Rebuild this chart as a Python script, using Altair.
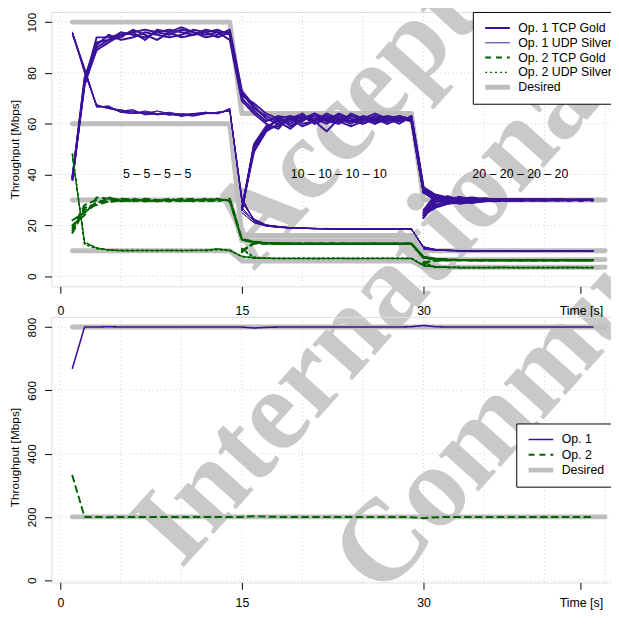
import altair as alt
import pandas as pd

FONT = "Liberation Sans"
SERIF = "Liberation Serif"
PURPLE = "#3A119A"
GREEN = "#006400"
GRAY = "#BEBEBE"
GRIDC = "#CFCFCF"
WMC = "#C9C9C9"

# ---------------- top panel: per-flow throughput ----------------
SERIES_TOP = ["Op. 1 TCP Gold", "Op. 1 UDP Silver", "Op. 2 TCP Gold", "Op. 2 UDP Silver", "Desired"]

# Op. 1 TCP Gold, flows started at t=1 (values for t=1..44)
OP1_GOLD_A = [
    [38, 76, 94, 94, 95, 96, 97, 96, 95, 97, 96, 95, 96, 96,
     72, 66, 63, 61, 62, 64, 60, 62, 63, 61, 62, 60, 63, 62, 62,
     34, 31, 30.5, 30, 30.2, 29.8, 30, 30.1, 29.9, 30, 30.2, 29.8, 30, 30, 29.9],
    [38, 78, 92, 93, 96, 95, 94, 96, 97, 96, 95, 96, 97, 95,
     70, 65, 61, 63, 59, 62, 63, 61, 64, 62, 60, 62, 61, 63, 61,
     33, 30, 29.6, 30.3, 29.8, 30.2, 29.9, 30, 30.1, 29.8, 30, 30.1, 29.9, 30, 30.1],
    [39, 75, 90, 93, 94, 97, 95, 93, 96, 98, 96, 94, 95, 97,
     73, 67, 62, 60, 62, 61, 64, 62, 60, 63, 62, 64, 62, 60, 63,
     35, 32, 30.8, 29.7, 30.4, 29.9, 30.2, 29.8, 30, 30.2, 29.9, 30, 30.1, 29.9, 30],
    [38, 77, 91, 95, 93, 94, 96, 95, 94, 95, 97, 96, 94, 96,
     71, 68, 64, 62, 60, 63, 61, 57, 62, 61, 63, 62, 60, 62, 62,
     34, 31, 29.4, 30.1, 29.7, 30.3, 29.8, 30.1, 29.9, 30, 29.8, 30.2, 30, 29.9, 30],
    [39, 76, 89, 92, 95, 96, 93, 97, 96, 94, 95, 97, 96, 93,
     69, 64, 60, 58, 63, 62, 62, 63, 61, 59, 61, 63, 62, 61, 62,
     33, 31, 30.2, 29.9, 30.1, 29.7, 30, 30.2, 29.9, 30.1, 30, 29.8, 30, 30.1, 29.9],
]
# flows started at t=15 (values for t=15..44)
OP1_GOLD_B = [
    [26, 51, 58, 62, 63, 60, 61, 64, 62, 60, 63, 61, 62, 63, 61,
     33, 30, 29.8, 30.2, 30, 29.9, 30.1, 30, 29.8, 30.2, 30, 29.9, 30, 30.1, 30],
    [27, 50, 57, 60, 61, 63, 62, 60, 63, 62, 61, 63, 60, 62, 62,
     34, 32, 30.5, 29.6, 30.2, 30, 29.8, 30.1, 30, 29.9, 30.1, 30, 29.9, 30, 30],
    [26, 52, 59, 61, 58, 62, 64, 61, 60, 64, 62, 60, 62, 61, 63,
     35, 31, 29.9, 30.3, 29.8, 30.1, 30, 29.9, 30.2, 30, 29.8, 30.1, 30, 29.9, 30.1],
    [27, 49, 57, 63, 62, 59, 61, 63, 62, 61, 60, 62, 63, 62, 61,
     33, 30, 30.4, 29.8, 30.1, 29.9, 30.2, 30, 29.9, 30.1, 30, 30, 29.8, 30.1, 30],
    [26, 51, 58, 59, 62, 63, 60, 62, 61, 63, 62, 61, 61, 63, 62,
     34, 31, 29.7, 30.2, 30, 30.1, 29.8, 30, 30.1, 29.9, 30, 30.2, 29.9, 30, 29.9],
]
# flows started at t=30 (values for t=30..44)
OP1_GOLD_C = [
    [23, 32, 31, 30.5, 30.8, 30.2, 30.4, 30, 30.3, 30.1, 30, 30.2, 29.9, 30.1, 30],
    [24, 27, 28.5, 29, 29.3, 29.6, 29.5, 29.8, 29.7, 29.9, 29.8, 30, 29.9, 29.8, 30],
    [23, 30, 31.5, 30, 29.5, 30.2, 29.8, 30.1, 30, 29.9, 30.2, 30, 30.1, 29.9, 30],
    [25, 31, 29.5, 28.5, 29.2, 29.9, 30.3, 29.7, 30, 30.2, 29.9, 30, 30.1, 30, 29.9],
    [24, 28, 30, 31, 30.5, 29.6, 30, 30.4, 29.8, 30, 30.1, 29.9, 30, 30.2, 30],
    [23, 29, 31, 29.8, 30.6, 30.1, 29.6, 30.2, 30.1, 29.8, 30, 30.1, 29.9, 30, 30.1],
    [26, 32, 30.5, 29.2, 28.8, 29.5, 30.1, 29.9, 30.3, 30, 29.9, 30.1, 30, 29.9, 30],
    [24, 27.5, 29, 30.4, 31, 30.3, 29.9, 30.1, 29.8, 30.1, 30.2, 29.9, 30, 30, 29.9],
    [25, 30.5, 28.5, 29.6, 30, 30.7, 30.2, 29.7, 30, 30.1, 29.8, 30, 30.1, 29.9, 30.1],
    [23, 29.5, 30.2, 31.2, 29.7, 29.4, 30, 30.3, 30.1, 29.9, 30, 30.1, 29.9, 30, 30],
]

# Op. 1 UDP Silver
OP1_SILVER_A = [
    [96, 81, 67, 66.5, 65, 64, 64.5, 63.5, 64, 63, 64, 64.5, 64, 65.5,
     30, 22, 20, 19.4, 19, 18.9, 18.8, 18.7, 18.6, 18.6, 18.5, 18.6, 18.5, 18.6, 18.5,
     11.5, 10.4, 10.2, 10.1, 10, 10, 10.1, 10, 10, 10.1, 10, 10, 10, 10.1, 10],
    [96, 80, 67.5, 66, 65.5, 64.5, 64, 64, 63.5, 63.5, 64, 64, 64.5, 65,
     29, 22.5, 20.2, 19.5, 19.1, 18.8, 18.7, 18.8, 18.6, 18.5, 18.6, 18.5, 18.6, 18.5, 18.6,
     11.3, 10.5, 10.1, 10.1, 10, 10.1, 10, 10, 10.1, 10, 10, 10.1, 10, 10, 10.1],
    [96, 81, 66.5, 67, 64.5, 65, 64, 65, 64, 63, 63.5, 64.5, 64, 65.5,
     31, 21.5, 19.8, 19.3, 19, 18.9, 18.8, 18.6, 18.7, 18.6, 18.5, 18.5, 18.6, 18.5, 18.5,
     11.6, 10.3, 10.2, 10, 10.1, 10, 10, 10.1, 10, 10, 10.1, 10, 10, 10, 10],
    [95, 81, 67, 66, 65, 65.5, 63.5, 64, 64.5, 63.5, 63, 64, 64.5, 65,
     30, 22, 20.1, 19.6, 19.1, 18.9, 18.8, 18.7, 18.6, 18.5, 18.6, 18.6, 18.5, 18.5, 18.6,
     11.4, 10.4, 10.1, 10.1, 10, 10, 10.1, 10, 10, 10, 10.1, 10, 10, 10.1, 10],
    [96, 82, 67, 66.5, 64.5, 64, 65, 64, 63.5, 64, 63.5, 64, 64, 66,
     29.5, 22, 19.9, 19.4, 19, 18.9, 18.7, 18.7, 18.6, 18.6, 18.5, 18.5, 18.5, 18.6, 18.5,
     11.5, 10.4, 10.2, 10, 10, 10.1, 10, 10, 10, 10.1, 10, 10, 10, 10, 10],
]
OP1_SILVER_B = [
    [27, 21.5, 19.9, 19.3, 19, 18.8, 18.7, 18.7, 18.6, 18.5, 18.5, 18.6, 18.5, 18.5, 18.5,
     11.2, 10.3, 10.1, 10, 10, 10.1, 10, 10, 10, 10, 10.1, 10, 10, 10, 10],
    [25, 21, 19.7, 19.2, 18.9, 18.8, 18.7, 18.6, 18.6, 18.6, 18.5, 18.5, 18.6, 18.5, 18.6,
     11.4, 10.4, 10.1, 10.1, 10, 10, 10, 10.1, 10, 10, 10, 10, 10.1, 10, 10],
    [26, 21.8, 20, 19.4, 19.1, 18.9, 18.7, 18.7, 18.5, 18.6, 18.6, 18.5, 18.5, 18.6, 18.5,
     11.3, 10.3, 10.2, 10, 10.1, 10, 10, 10, 10.1, 10, 10, 10, 10, 10.1, 10],
]
OP1_SILVER_C = [
    [11, 10.3, 10.1, 10, 10, 10, 10.1, 10, 10, 10, 10, 10.1, 10, 10, 10],
    [10.6, 10.2, 10.1, 10.1, 10, 10, 10, 10, 10.1, 10, 10, 10, 10, 10.1, 10],
    [11.3, 10.4, 10, 10, 10.1, 10, 10, 10, 10, 10.1, 10, 10, 10, 10, 10],
]

# Op. 2 TCP Gold
OP2_GOLD_A = [
    [17, 26, 29, 30, 30.5, 30, 29.5, 30, 30, 29.5, 30, 30, 29.5, 30.5,
     14.5, 13.5, 13, 12.9, 12.8, 12.8, 12.7, 12.8, 12.8, 12.7, 12.8, 12.8, 12.7, 12.8, 12.8,
     7.5, 6.8, 6.5, 6.4, 6.4, 6.3, 6.4, 6.3, 6.3, 6.4, 6.3, 6.3, 6.4, 6.3, 6.3],
    [20, 24, 31, 30.5, 30, 29.5, 30, 29.5, 30, 30, 29.5, 30.5, 30, 30,
     14.2, 13.4, 13.1, 12.8, 12.8, 12.7, 12.8, 12.8, 12.7, 12.8, 12.8, 12.7, 12.8, 12.8, 12.7,
     7.4, 6.7, 6.5, 6.4, 6.3, 6.4, 6.3, 6.3, 6.4, 6.3, 6.3, 6.4, 6.3, 6.3, 6.4],
    [18, 27, 28, 29.5, 30, 30.5, 29.5, 30, 29.5, 30.5, 30, 29.5, 30, 30,
     14.6, 13.6, 13, 12.9, 12.7, 12.8, 12.8, 12.7, 12.8, 12.8, 12.7, 12.8, 12.8, 12.7, 12.8,
     7.6, 6.8, 6.4, 6.4, 6.4, 6.3, 6.3, 6.4, 6.3, 6.3, 6.4, 6.3, 6.3, 6.4, 6.3],
    [22, 25, 28.5, 31, 29.5, 30, 30, 29.5, 30.5, 29.5, 30, 30, 30.5, 29.5,
     14.3, 13.5, 13.1, 12.8, 12.8, 12.8, 12.7, 12.8, 12.8, 12.8, 12.7, 12.8, 12.7, 12.8, 12.8,
     7.5, 6.7, 6.5, 6.3, 6.4, 6.4, 6.3, 6.3, 6.3, 6.4, 6.3, 6.4, 6.3, 6.3, 6.3],
    [19, 28, 30, 29, 30, 29.5, 30.5, 30, 29.5, 30, 30.5, 29.5, 30, 30,
     14.4, 13.4, 13, 12.8, 12.9, 12.7, 12.8, 12.8, 12.8, 12.7, 12.8, 12.8, 12.8, 12.7, 12.8,
     7.4, 6.8, 6.4, 6.4, 6.3, 6.3, 6.4, 6.3, 6.4, 6.3, 6.3, 6.3, 6.4, 6.3, 6.4],
]
OP2_GOLD_B = [
    [9.7, 13, 12.9, 12.8, 12.8, 12.7, 12.8, 12.8, 12.7, 12.8, 12.8, 12.8, 12.7, 12.8, 12.8,
     7.3, 6.6, 6.4, 6.4, 6.3, 6.3, 6.4, 6.3, 6.3, 6.3, 6.4, 6.3, 6.3, 6.3, 6.3],
    [10.2, 12.8, 12.9, 12.8, 12.7, 12.8, 12.8, 12.7, 12.8, 12.8, 12.7, 12.8, 12.8, 12.8, 12.7,
     7.2, 6.6, 6.5, 6.3, 6.4, 6.3, 6.3, 6.4, 6.3, 6.3, 6.3, 6.4, 6.3, 6.3, 6.4],
    [9.4, 13.2, 12.8, 12.9, 12.8, 12.8, 12.7, 12.8, 12.8, 12.7, 12.8, 12.8, 12.7, 12.8, 12.8,
     7.4, 6.7, 6.4, 6.4, 6.3, 6.4, 6.3, 6.3, 6.3, 6.4, 6.3, 6.3, 6.4, 6.3, 6.3],
]
OP2_GOLD_C = [
    [5.2, 6.2, 6.3, 6.3, 6.4, 6.3, 6.3, 6.3, 6.4, 6.3, 6.3, 6.3, 6.3, 6.4, 6.3],
    [4.8, 6.4, 6.4, 6.3, 6.3, 6.3, 6.4, 6.3, 6.3, 6.3, 6.4, 6.3, 6.3, 6.3, 6.3],
    [5.5, 6.1, 6.3, 6.4, 6.3, 6.3, 6.3, 6.4, 6.3, 6.3, 6.3, 6.3, 6.4, 6.3, 6.3],
]

# Op. 2 UDP Silver
OP2_SILVER_A = [
    [48, 13, 11, 10.3, 10, 10, 10.2, 10, 10.3, 10, 10.2, 10, 10.5, 10,
     7.8, 7.2, 7, 7, 6.9, 7, 7, 6.9, 7, 7, 7, 6.9, 7, 7, 7,
     4.2, 3.6, 3.5, 3.4, 3.4, 3.4, 3.5, 3.4, 3.4, 3.4, 3.5, 3.4, 3.4, 3.4, 3.4],
    [48, 12.5, 10.8, 10.4, 10.1, 10.2, 10, 10.1, 10.2, 10.1, 10, 10.3, 10.6, 10.2,
     7.6, 7.1, 7, 6.9, 7, 7, 6.9, 7, 7, 6.9, 7, 7, 7, 6.9, 7,
     4.1, 3.6, 3.4, 3.4, 3.5, 3.4, 3.4, 3.4, 3.5, 3.4, 3.4, 3.4, 3.4, 3.5, 3.4],
    [47, 13.5, 11.2, 10.2, 10.2, 10, 10.1, 10.2, 10, 10.2, 10.1, 10.2, 10.8, 10.1,
     7.9, 7.2, 7.1, 7, 7, 6.9, 7, 7, 7, 7, 6.9, 7, 7, 7, 6.9,
     4.3, 3.7, 3.5, 3.4, 3.4, 3.4, 3.4, 3.5, 3.4, 3.4, 3.4, 3.5, 3.4, 3.4, 3.4],
    [48, 12.8, 10.9, 10.3, 10.1, 10.1, 10.2, 10, 10.1, 10.1, 10.2, 10.1, 10.4, 10.3,
     7.7, 7.1, 7, 7, 7, 7, 6.9, 7, 6.9, 7, 7, 7, 6.9, 7, 7,
     4.2, 3.6, 3.4, 3.5, 3.4, 3.4, 3.4, 3.4, 3.4, 3.5, 3.4, 3.4, 3.4, 3.4, 3.5],
    [48, 13.2, 11.1, 10.4, 10, 10.1, 10.1, 10.1, 10.2, 10, 10.1, 10.2, 10.7, 10.2,
     7.8, 7.2, 7, 6.9, 7, 7, 7, 7, 7, 6.9, 7, 7, 7, 7, 7,
     4.2, 3.6, 3.5, 3.4, 3.4, 3.5, 3.4, 3.4, 3.4, 3.4, 3.4, 3.4, 3.5, 3.4, 3.4],
]
OP2_SILVER_B = [
    [10.8, 7.4, 7.1, 7, 7, 6.9, 7, 7, 7, 6.9, 7, 7, 7, 7, 6.9,
     4.3, 3.6, 3.5, 3.4, 3.4, 3.4, 3.4, 3.5, 3.4, 3.4, 3.4, 3.4, 3.5, 3.4, 3.4],
    [10.4, 7.3, 7, 7, 6.9, 7, 7, 6.9, 7, 7, 7, 6.9, 7, 7, 7,
     4.2, 3.6, 3.4, 3.4, 3.5, 3.4, 3.4, 3.4, 3.4, 3.5, 3.4, 3.4, 3.4, 3.4, 3.4],
    [11.0, 7.5, 7.1, 7, 7, 7, 6.9, 7, 7, 7, 6.9, 7, 7, 6.9, 7,
     4.4, 3.7, 3.5, 3.4, 3.4, 3.4, 3.5, 3.4, 3.4, 3.4, 3.4, 3.5, 3.4, 3.4, 3.4],
]
OP2_SILVER_C = [
    [5.2, 3.6, 3.5, 3.4, 3.4, 3.4, 3.4, 3.5, 3.4, 3.4, 3.4, 3.4, 3.4, 3.5, 3.4],
    [4.8, 3.7, 3.4, 3.4, 3.5, 3.4, 3.4, 3.4, 3.4, 3.4, 3.5, 3.4, 3.4, 3.4, 3.4],
    [5.5, 3.5, 3.5, 3.4, 3.4, 3.4, 3.5, 3.4, 3.4, 3.4, 3.4, 3.4, 3.5, 3.4, 3.4],
]

# Desired per-flow throughput (t = 1..45)
DES_OP1_GOLD = [100, 100, 100, 100, 100, 100, 100, 100, 100, 100, 100, 100, 100, 100,
                64, 64, 64, 64, 64, 64, 64, 64, 64, 64, 64, 64, 64, 64, 64,
                30, 30, 30, 30, 30, 30, 30, 30, 30, 30, 30, 30, 30, 30, 30, 30]
DES_OP1_SILVER = [60, 60, 60, 60, 60, 60, 60, 60, 60, 60, 60, 60, 60, 60,
                  16, 16, 16, 16, 16, 16, 16, 16, 16, 16, 16, 16, 16, 16, 16,
                  10, 10, 10, 10, 10, 10, 10, 10, 10, 10, 10, 10, 10, 10, 10, 10]
DES_OP2_GOLD = [30, 30, 30, 30, 30, 30, 30, 30, 30, 30, 30, 30, 30, 30,
                14, 14, 14, 14, 14, 14, 14, 14, 14, 14, 14, 14, 14, 14, 14,
                6.5, 6.5, 6.5, 6.5, 6.5, 6.5, 6.5, 6.5, 6.5, 6.5, 6.5, 6.5, 6.5, 6.5, 6.5, 6.5]
DES_OP2_SILVER = [10, 10, 10, 10, 10, 10, 10, 10, 10, 10, 10, 10, 10, 10,
                  6, 6, 6, 6, 6, 6, 6, 6, 6, 6, 6, 6, 6, 6, 6,
                  3.5, 3.5, 3.5, 3.5, 3.5, 3.5, 3.5, 3.5, 3.5, 3.5, 3.5, 3.5, 3.5, 3.5, 3.5, 3.5]

PHASE_LABELS = ["5 \u2013 5 \u2013 5 \u2013 5", "10 \u2013 10 \u2013 10 \u2013 10", "20 \u2013 20 \u2013 20 \u2013 20"]
PHASE_T = [8, 23, 38]
PHASE_V = [40, 40, 40]

# ---------------- bottom panel: aggregate throughput ----------------
SERIES_BOT = ["Op. 1", "Op. 2", "Desired"]
AGG_OP1 = [670, 800, 800, 801, 800, 800, 800, 800, 800, 800, 800, 800, 800, 800,
           800, 797, 799, 800, 800, 800, 800, 800, 800, 800, 800, 800, 800, 800, 801,
           805, 801, 800, 800, 800, 800, 800, 800, 800, 800, 800, 800, 800, 800, 800]
AGG_OP2 = [330, 200, 200, 199, 200, 200, 200, 200, 200, 200, 200, 200, 200, 200,
           200, 202, 201, 200, 200, 200, 200, 200, 200, 200, 200, 200, 200, 200, 199,
           196, 199, 200, 200, 200, 200, 200, 200, 200, 200, 200, 200, 200, 200, 200]
DES_AGG_OP1 = [800, 800, 800, 800, 800, 800, 800, 800, 800, 800, 800, 800, 800, 800, 800,
               800, 800, 800, 800, 800, 800, 800, 800, 800, 800, 800, 800, 800, 800, 800,
               800, 800, 800, 800, 800, 800, 800, 800, 800, 800, 800, 800, 800, 800, 800]
DES_AGG_OP2 = [200, 200, 200, 200, 200, 200, 200, 200, 200, 200, 200, 200, 200, 200, 200,
               200, 200, 200, 200, 200, 200, 200, 200, 200, 200, 200, 200, 200, 200, 200,
               200, 200, 200, 200, 200, 200, 200, 200, 200, 200, 200, 200, 200, 200, 200]

# axes / grid values
X_TICKS = [0, 15, 30, 43]
GRID_T = [0, 5, 10, 15, 20, 25, 30, 35, 40, 45]
Y_TICKS_TOP = [0, 20, 40, 60, 80, 100]
Y_TICKS_BOT = [0, 200, 400, 600, 800]

# watermark words (anchor in top-panel data units; text runs across both panels)
WM_WORDS = ["Accepted", "International", "Communication"]
WM_T = [15.99, 9.99, 26.50]
WM_V = [1.71, -115.65, -127.3]


def rows(series, start, tag, lists):
    out = []
    for k, vals in enumerate(lists):
        for i, v in enumerate(vals):
            out.append({"series": series, "flow": f"{series}|{tag}{k}", "t": start + i, "v": v})
    return out


top_rows = []
top_rows += rows("Op. 1 TCP Gold", 1, "A", OP1_GOLD_A)
top_rows += rows("Op. 1 TCP Gold", 15, "B", OP1_GOLD_B)
top_rows += rows("Op. 1 TCP Gold", 30, "C", OP1_GOLD_C)
top_rows += rows("Op. 1 UDP Silver", 1, "A", OP1_SILVER_A)
top_rows += rows("Op. 1 UDP Silver", 15, "B", OP1_SILVER_B)
top_rows += rows("Op. 1 UDP Silver", 30, "C", OP1_SILVER_C)
top_rows += rows("Op. 2 TCP Gold", 1, "A", OP2_GOLD_A)
top_rows += rows("Op. 2 TCP Gold", 15, "B", OP2_GOLD_B)
top_rows += rows("Op. 2 TCP Gold", 30, "C", OP2_GOLD_C)
top_rows += rows("Op. 2 UDP Silver", 1, "A", OP2_SILVER_A)
top_rows += rows("Op. 2 UDP Silver", 15, "B", OP2_SILVER_B)
top_rows += rows("Op. 2 UDP Silver", 30, "C", OP2_SILVER_C)
df_top = pd.DataFrame(top_rows)

des_rows = []
des_rows += rows("Desired", 1, "g1", [DES_OP1_GOLD])
des_rows += rows("Desired", 1, "s1", [DES_OP1_SILVER])
des_rows += rows("Desired", 1, "g2", [DES_OP2_GOLD])
des_rows += rows("Desired", 1, "s2", [DES_OP2_SILVER])
df_des_top = pd.DataFrame(des_rows)

df_bot = pd.DataFrame(rows("Op. 1", 1, "a", [AGG_OP1]) + rows("Op. 2", 1, "a", [AGG_OP2]))
df_des_bot = pd.DataFrame(rows("Desired", 1, "d1", [DES_AGG_OP1]) + rows("Desired", 1, "d2", [DES_AGG_OP2]))

df_phase = pd.DataFrame({"t": PHASE_T, "v": PHASE_V, "label": PHASE_LABELS})
df_wm = pd.DataFrame({"t": WM_T, "v": WM_V, "w": WM_WORDS})
df_gt = pd.DataFrame({"t": GRID_T})
df_gy_top = pd.DataFrame({"v": Y_TICKS_TOP})
df_gy_bot = pd.DataFrame({"v": Y_TICKS_BOT})

SX = alt.Scale(domain=[-0.734, 45.488], nice=False, zero=False)


def x_enc(lpad):
    return alt.X("t:Q", scale=SX, title=None, axis=alt.Axis(
        values=X_TICKS, labelExpr="datum.value == 43 ? 'Time [s]' : datum.label",
        grid=False, domain=False, ticks=True, tickSize=7, tickColor="black", tickWidth=1,
        labelPadding=lpad, labelFont=FONT, labelFontSize=12.5, labelColor="black",
        labelFlush=False, labelOverlap=False, zindex=1))


def y_enc(domain, ticks, ty):
    return alt.Y("v:Q", scale=alt.Scale(domain=domain, nice=False, zero=False), axis=alt.Axis(
        values=ticks, grid=False, domain=False, tickSize=7, tickColor="black", tickWidth=1,
        labelAngle=270, labelAlign="center", labelBaseline="middle", labelPadding=13,
        labelFont=FONT, labelFontSize=12, labelColor="black", labelOverlap=False, labelFlush=False,
        title="Throughput [Mbps]", titleFont=FONT, titleFontSize=12, titleFontWeight="normal",
        titleColor="black", titleAngle=270, titleX=-37.5, titleY=ty, titleAlign="center",
        titleBaseline="middle", zindex=1))


def legend(lx, ly, rpad):
    return alt.Legend(orient="none", legendX=lx, legendY=ly, direction="vertical", title=None,
                      fillColor="white", strokeColor="black", padding=10, cornerRadius=0,
                      symbolSize=625, symbolType="stroke", labelFont=FONT, labelFontSize=12.5,
                      labelColor="black", labelOffset=6, rowPadding=rpad, clipHeight=12.5,
                      labelLimit=300)


def panel(df_data, df_des, series, colors, dashes, widths, ydomain, yticks, ty, df_gy,
          lx, ly, rpad, lpad, with_wm):
    X = x_enc(lpad)
    Y = y_enc(ydomain, yticks, ty)
    C = alt.Color("series:N", scale=alt.Scale(domain=series, range=colors), legend=legend(lx, ly, rpad))
    D = alt.StrokeDash("series:N", scale=alt.Scale(type="ordinal", domain=series, range=dashes))
    W = alt.StrokeWidth("series:N", scale=alt.Scale(type="ordinal", domain=series, range=widths))
    grid_v = alt.Chart(df_gt).mark_rule(color=GRIDC, strokeDash=[1, 3], strokeWidth=1).encode(x=X)
    grid_h = alt.Chart(df_gy).mark_rule(color=GRIDC, strokeDash=[1, 3], strokeWidth=1).encode(y=Y)
    layers = [grid_v, grid_h]
    if with_wm:
        wm = alt.Chart(df_wm).mark_text(font=SERIF, fontSize=118, fontWeight="bold", color=WMC,
                                        angle=312, align="left", baseline="alphabetic").encode(
            x=X, y=Y, text="w:N")
        layers.append(wm)
    des = alt.Chart(df_des).mark_line(strokeCap="round", strokeJoin="round").encode(
        x=X, y=Y, color=C, strokeDash=D, strokeWidth=W, detail="flow:N")
    dat = alt.Chart(df_data).mark_line(strokeCap="round", strokeJoin="round").encode(
        x=X, y=Y, color=C, strokeDash=D, strokeWidth=W, detail="flow:N")
    return layers + [des, dat]


top_layers = panel(df_top, df_des_top, SERIES_TOP,
                   [PURPLE, PURPLE, GREEN, GREEN, GRAY],
                   [[1, 0], [1, 0], [6, 5], [2, 3], [1, 0]],
                   [2, 1, 2, 1.3, 5],
                   [-4, 104], Y_TICKS_TOP, 139, df_gy_top, 427, 0, 2, 11.5, True)
phase = alt.Chart(df_phase).mark_text(font=FONT, fontSize=12.5, color="black").encode(
    x=x_enc(11.5), y=y_enc([-4, 104], Y_TICKS_TOP, 139), text="label:N")
top = alt.layer(*top_layers, phase).properties(width=567, height=278)

bot_layers = panel(df_bot, df_des_bot, SERIES_BOT,
                   [PURPLE, GREEN, GRAY],
                   [[1, 0], [6, 5], [1, 0]],
                   [1.6, 2, 5],
                   [-7, 832], Y_TICKS_BOT, 142, df_gy_bot, 471, 108, 2.5, 7, False)
bottom = alt.layer(*bot_layers).properties(width=567, height=269)

chart = alt.vconcat(top, bottom, spacing=31, bounds="flush").resolve_scale(
    color="independent", strokeDash="independent", strokeWidth="independent",
    x="independent", y="independent"
).resolve_legend(
    color="independent", strokeDash="independent", strokeWidth="independent"
).properties(
    autosize=alt.AutoSizeParams(type="none"),
    padding={"left": 44, "top": 0, "right": 0, "bottom": 605}
).configure_view(stroke="black", strokeWidth=1).configure(font=FONT)

chart.save("out.html", embed_options={"renderer": "svg", "actions": False})
